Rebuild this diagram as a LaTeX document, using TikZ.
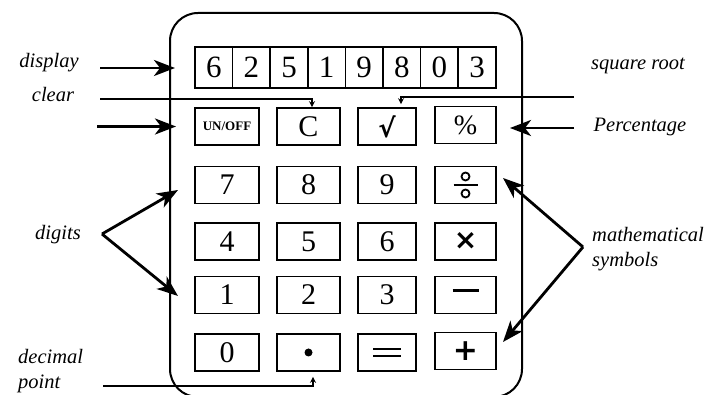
\documentclass[tikz,border=0pt]{standalone}
\usepackage{fontspec}
\setmainfont{Liberation Serif}
\newfontfamily\djv{DejaVu Sans}
\usetikzlibrary{arrows.meta}
\begin{document}
\begin{tikzpicture}[x=1pt,y=-1pt,
  btn/.style={draw, line width=1.6pt, minimum width=#1, minimum height=37pt, inner sep=0pt, font=\fontsize{30}{30}\selectfont},
  btn/.default=62pt,
  cell/.style={draw, line width=1.6pt, minimum width=37.6pt, minimum height=41pt, inner sep=0pt, font=\fontsize{31}{31}\selectfont},
  lab/.style={font=\fontsize{20.5}{25}\selectfont\itshape, align=left, inner sep=0pt},
  bigarrow/.style={line width=2.8pt, -{Stealth[length=21pt,width=16pt,inset=6pt]}},
  smallarrow/.style={line width=1.6pt, -{Stealth[length=6pt,width=6pt]}}
]
\useasboundingbox (0,0) rectangle (716,395);
% body
\node[draw, line width=2pt, rounded corners=28pt, minimum width=352pt, minimum height=384pt, inner sep=0pt] (body) at (346,205) {};
% display
\foreach \d [count=\i] in {6,2,5,1,9,8,0,3}
  \node[cell] (d\i) at ({213.8+(\i-1)*37.6}, 67.5) {\d};
% row 0
\node[btn=64pt] (onoff) at (227,126.5) {\fontsize{13}{13}\selectfont\bfseries UN/OFF};
\node[btn=63pt] (clr) at (308.5,126.5) {C};
\node[btn=58pt] (sq) at (387,126.5) {\djv\bfseries\fontsize{26}{26}\selectfont √};
\node[btn=61pt] (pct) at (465.5,125) {\fontsize{28}{28}\selectfont \%};
% row 1
\node[btn=64pt] (k7) at (227,185) {7};
\node[btn=63pt] (k8) at (308.5,185) {8};
\node[btn=58pt] (k9) at (387,185) {9};
\node[btn=61pt] (kdiv) at (465.5,185) {};
\draw[line width=1.8pt] ([xshift=-12pt]kdiv.center) -- ([xshift=12pt]kdiv.center);
\draw[line width=1.8pt] ([yshift=-8.5pt]kdiv.center) circle (4pt);
\draw[line width=1.8pt] ([yshift=8.5pt]kdiv.center) circle (4pt);
% row 2
\node[btn=64pt] (k4) at (227,241.5) {4};
\node[btn=63pt] (k5) at (308.5,241.5) {5};
\node[btn=58pt] (k6) at (387,241.5) {6};
\node[btn=61pt] (kmul) at (465.5,241.5) {\djv\bfseries\fontsize{28}{28}\selectfont ×};
% row 3
\node[btn=64pt] (k1) at (227,295) {1};
\node[btn=63pt] (k2) at (308.5,295) {2};
\node[btn=58pt] (k3) at (387,295) {3};
\node[btn=61pt] (kmin) at (465.5,295) {\rule[9pt]{26pt}{2.8pt}};
% row 4
\node[btn=64pt] (k0) at (227,352.5) {0};
\node[btn=63pt] (kdot) at (308.5,352.5) {};
\fill (kdot.center) circle (4pt);
\node[btn=58pt] (keq) at (387,352.5) {};
\draw[line width=2.2pt] ([xshift=-14pt,yshift=-3.5pt]keq.center) -- ([xshift=14pt,yshift=-3.5pt]keq.center);
\draw[line width=2.2pt] ([xshift=-14pt,yshift=3.5pt]keq.center) -- ([xshift=14pt,yshift=3.5pt]keq.center);
\node[btn=61pt] (kplus) at (465.5,351) {\djv\bfseries\fontsize{30}{30}\selectfont +};
% labels
\node[lab] (ldisp) at (49,63) {display};
\node[lab] (lclear) at (53,94) {clear};
\node[lab] (lsqrt) at (638,66) {square root};
\node[lab] (lpct) at (640,127) {Percentage};
\node[lab] (ldig) at (58,235) {digits};
\node[lab, anchor=west] (lmath) at (592,249) {mathematical\\symbols};
\node[lab, anchor=west] (ldec) at (18,371) {decimal\\point};
% arrow coordinates
\coordinate (aDisp) at (100,68);
\coordinate (aDispE) at (175,68);
\coordinate (aOn) at (97,126.5);
\coordinate (aOnE) at (176,126.5);
\coordinate (aClr) at (100,99);
\coordinate (aSq) at (574,97);
\coordinate (aPct) at (574,128);
\coordinate (aPctE) at (510,128);
\coordinate (aDig) at (102,234);
\coordinate (aDigA) at (178,190);
\coordinate (aDigB) at (178,296);
\coordinate (aMath) at (583,247);
\coordinate (aMathA) at (503,178);
\coordinate (aMathB) at (503,342);
\coordinate (aDec) at (103,386);
% arrows
\draw[bigarrow] (aDisp) -- (aDispE);
\draw[bigarrow] (aOn) -- (aOnE);
\draw[bigarrow] (aPct) -- (aPctE);
\draw[bigarrow] (aDig) -- (aDigA);
\draw[bigarrow] (aDig) -- (aDigB);
\draw[bigarrow] (aMath) -- (aMathA);
\draw[bigarrow] (aMath) -- (aMathB);
\draw[smallarrow] (aClr) -| ([xshift=3.5pt]clr.north);
\draw[smallarrow, shorten >=3pt] (aSq) -| ([xshift=14pt]sq.north);
\draw[smallarrow, shorten >=5pt] (aDec) -| ([xshift=4.5pt]kdot.south);
\end{tikzpicture}
\end{document}
